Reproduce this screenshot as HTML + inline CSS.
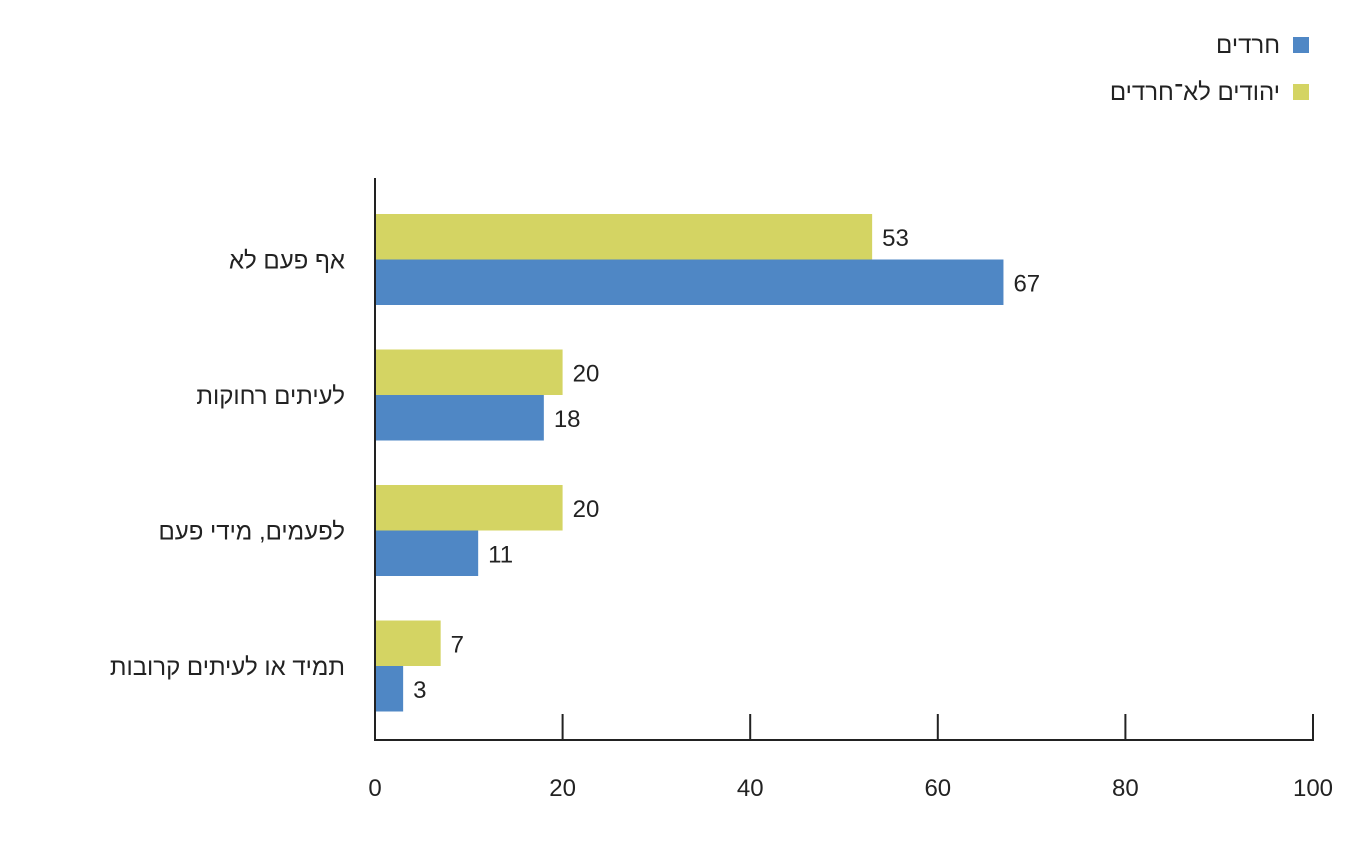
<!DOCTYPE html>
<html><head><meta charset="utf-8">
<style>
body{margin:0;background:#fff;}
svg{display:block;font-family:"Liberation Sans","Noto Sans CJK SC",sans-serif;}
</style></head>
<body>
<svg id="chart" width="1359" height="841" viewBox="0 0 1359 841">
<g id="legend">
  <rect x="1293" y="37" width="16" height="16" fill="#4f87c5"/>
  <text x="1280" y="53" text-anchor="end" font-size="24" fill="#222">חרדים</text>
  <rect x="1293" y="84" width="16" height="16" fill="#d4d463"/>
  <text x="1280" y="100" text-anchor="end" font-size="24" fill="#222">יהודים לא־חרדים</text>
</g>
<g id="plot"></g>
</svg>
<script>
const categories=["אף פעם לא","לעיתים רחוקות","לפעמים, מידי פעם","תמיד או לעיתים קרובות"];
const nonHaredim=[53,20,20,7];
const haredim=[67,18,11,3];
const tickValues=[0,20,40,60,80,100];
const NS="http://www.w3.org/2000/svg";
const g=document.getElementById("plot");
const x0=375,x1=1313,xMax=100,yTop=178,yAxis=740,bandTop=191,band=135.5,barH=45.5;
const xs=v=>x0+(v/xMax)*(x1-x0);
function mk(t,a){const e=document.createElementNS(NS,t);for(const k in a)e.setAttribute(k,a[k]);g.appendChild(e);return e;}
categories.forEach((c,i)=>{
  const yb=bandTop+i*band+23;
  let r=mk("rect",{x:x0,y:yb,width:xs(nonHaredim[i])-x0,height:barH,fill:"#d4d463"});
  
  
  let t=mk("text",{x:xs(nonHaredim[i])+10,y:yb+barH/2+9,"font-size":24,fill:"#222"});t.textContent=nonHaredim[i];
  
  
  r=mk("rect",{x:x0,y:yb+barH,width:xs(haredim[i])-x0,height:barH,fill:"#4f87c5"});
  
  
  t=mk("text",{x:xs(haredim[i])+10,y:yb+barH*1.5+9,"font-size":24,fill:"#222"});t.textContent=haredim[i];
  
  
  t=mk("text",{x:345,y:yb+barH+9,"font-size":24,fill:"#222","text-anchor":"end"});t.textContent=c;
  
  
});
let a=mk("line",{x1:x0,y1:yTop,x2:x0,y2:yAxis+1,stroke:"#222","stroke-width":2});


a=mk("line",{x1:x0,y1:yAxis,x2:x1+1,y2:yAxis,stroke:"#222","stroke-width":2});


tickValues.forEach(v=>{
  const l=mk("line",{x1:xs(v),y1:yAxis,x2:xs(v),y2:yAxis-26,stroke:"#222","stroke-width":2});
  
  
  const t=mk("text",{x:xs(v),y:796,"font-size":24,fill:"#222","text-anchor":"middle"});t.textContent=v;
  
  
});
</script>
</body></html>
